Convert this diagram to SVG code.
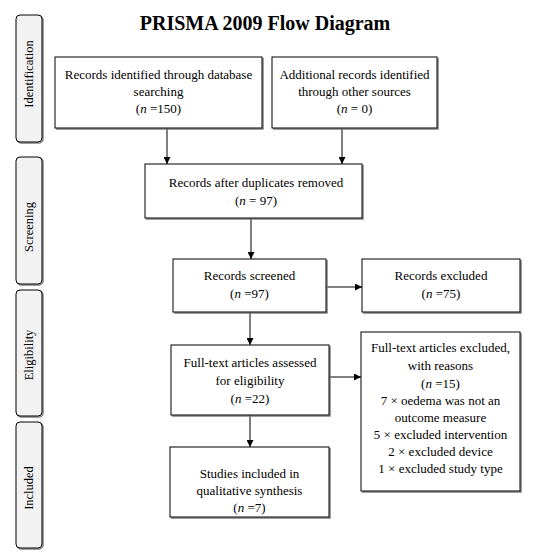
<svg xmlns="http://www.w3.org/2000/svg" width="533" height="556" viewBox="0 0 533 556">
<defs>
<marker id="ah" viewBox="0 0 10 10" refX="10" refY="5" markerWidth="7" markerHeight="7" markerUnits="userSpaceOnUse" orient="auto">
<path d="M0,0 L10,5 L0,10 z" fill="#000"/>
</marker>
</defs>
<style>
text{font-family:"Liberation Serif","Times New Roman",serif;font-size:13px;fill:#000}
.t{text-anchor:middle}
.title{font-size:20px;font-weight:bold}
.side{font-size:12.5px}
.box{fill:#fff;stroke:#000;stroke-width:1}
.sh{fill:none;stroke:#7f7f7f;stroke-width:1.5}
.bar{fill:#f2f2f2;stroke:#000;stroke-width:1}
.barsh{fill:none;stroke:#7f7f7f;stroke-width:1.5}
.c{fill:none;stroke:#000;stroke-width:1;marker-end:url(#ah)}
.it{font-style:italic}
</style>
<rect width="533" height="556" fill="#fff"/>
<text class="t title" x="265" y="30">PRISMA 2009 Flow Diagram</text>

<g id="bar-identification">
<rect class="barsh" x="17" y="16" width="26" height="127" rx="4"/>
<rect class="bar" x="16" y="15" width="26" height="127" rx="4"/>
<text class="t side" transform="translate(33,74) rotate(-90)">Identification</text>
</g>
<g id="bar-screening">
<rect class="barsh" x="17" y="158" width="26" height="127" rx="4"/>
<rect class="bar" x="16" y="157" width="26" height="127" rx="4"/>
<text class="t side" transform="translate(33,227) rotate(-90)">Screening</text>
</g>
<g id="bar-eligibility">
<rect class="barsh" x="17" y="291" width="26" height="126" rx="4"/>
<rect class="bar" x="16" y="290" width="26" height="126" rx="4"/>
<text class="t side" transform="translate(33,355) rotate(-90)">Eligibility</text>
</g>
<g id="bar-included">
<rect class="barsh" x="17" y="423" width="26" height="126" rx="4"/>
<rect class="bar" x="16" y="422" width="26" height="126" rx="4"/>
<text class="t side" transform="translate(33,488) rotate(-90)">Included</text>
</g>

<g id="connectors">
<path class="c" d="M167,128 V164"/>
<path class="c" d="M342,128 V164"/>
<path class="c" d="M251,218 V259"/>
<path class="c" d="M326,287 H362"/>
<path class="c" d="M250,312 V345"/>
<path class="c" d="M329,377 H361"/>
<path class="c" d="M250,415 V447"/>
</g>

<g id="box-db">
<path class="sh" d="M263,58 V129 H56"/>
<rect class="box" x="55" y="57" width="207" height="71"/>
<text class="t" x="158.5" y="79">Records identified through database</text>
<text class="t" x="158.5" y="96">searching</text>
<text class="t" x="158.5" y="113">(<tspan class="it">n</tspan> =150)</text>
</g>
<g id="box-other">
<path class="sh" d="M438,58 V129 H273"/>
<rect class="box" x="272" y="57" width="165" height="71"/>
<text class="t" x="354.5" y="79">Additional records identified</text>
<text class="t" x="354.5" y="96">through other sources</text>
<text class="t" x="354.5" y="113">(<tspan class="it">n</tspan> = 0)</text>
</g>
<g id="box-dedup">
<path class="sh" d="M363,165 V219 H146"/>
<rect class="box" x="145" y="164" width="217" height="54"/>
<text class="t" x="256" y="187">Records after duplicates removed</text>
<text class="t" x="256" y="205">(<tspan class="it">n</tspan> = 97)</text>
</g>
<g id="box-screened">
<path class="sh" d="M327,260 V313 H174"/>
<rect class="box" x="173" y="259" width="153" height="53"/>
<text class="t" x="249.5" y="280">Records screened</text>
<text class="t" x="249.5" y="298">(<tspan class="it">n</tspan> =97)</text>
</g>
<g id="box-excluded">
<path class="sh" d="M521,260 V313 H363"/>
<rect class="box" x="362" y="259" width="158" height="53"/>
<text class="t" x="441" y="280">Records excluded</text>
<text class="t" x="441" y="298">(<tspan class="it">n</tspan> =75)</text>
</g>
<g id="box-fulltext">
<path class="sh" d="M330,346 V416 H172"/>
<rect class="box" x="171" y="345" width="158" height="70"/>
<text class="t" x="250" y="367">Full-text articles assessed</text>
<text class="t" x="250" y="385">for eligibility</text>
<text class="t" x="250" y="403">(<tspan class="it">n</tspan> =22)</text>
</g>
<g id="box-ft-excluded">
<path class="sh" d="M521,333 V492 H362"/>
<rect class="box" x="361" y="332" width="159" height="159"/>
<text class="t" x="440.5" y="352">Full-text articles excluded,</text>
<text class="t" x="440.5" y="370">with reasons</text>
<text class="t" x="440.5" y="388">(<tspan class="it">n</tspan> =15)</text>
<text class="t" x="440.5" y="405">7 × oedema was not an</text>
<text class="t" x="440.5" y="422">outcome measure</text>
<text class="t" x="440.5" y="439">5 × excluded intervention</text>
<text class="t" x="440.5" y="456">2 × excluded device</text>
<text class="t" x="440.5" y="473">1 × excluded study type</text>
</g>
<g id="box-included">
<path class="sh" d="M330,448 V518 H171"/>
<rect class="box" x="170" y="447" width="159" height="70"/>
<text class="t" x="249.5" y="478">Studies included in</text>
<text class="t" x="249.5" y="495">qualitative synthesis</text>
<text class="t" x="249.5" y="512">(<tspan class="it">n</tspan> =7)</text>
</g>
</svg>
